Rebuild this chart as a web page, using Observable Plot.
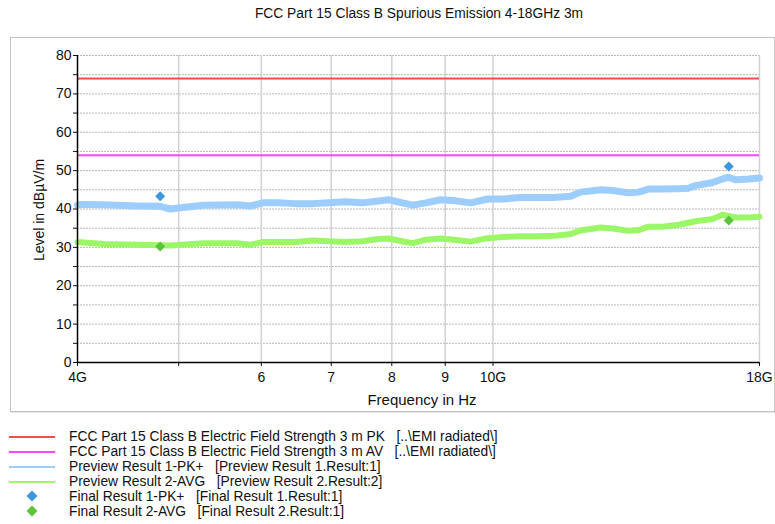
<!DOCTYPE html>
<html>
<head>
<meta charset="utf-8">
<script src="https://cdn.jsdelivr.net/npm/d3@7"></script>
<script src="https://cdn.jsdelivr.net/npm/@observablehq/plot@0.6"></script>
<style>
  body { margin: 0; background: #fff; font-family: "Liberation Sans", Arial, sans-serif; }
  #wrap { position: relative; width: 775px; height: 524px; overflow: hidden; }
  #title { position: absolute; top: 6px; left: 419px; transform: translateX(-50%); font-size: 13.8px; white-space: nowrap; color: #111; }
  #box { position: absolute; left: 10px; top: 37px; width: 763px; height: 373px; border: 1px solid #c4c4c4; box-shadow: 1px 1px 0 #e6e6e6; }
  #chart { position: absolute; left: 0; top: 30px; }
  #xlabel { position: absolute; top: 391px; left: 422px; transform: translateX(-50%); font-size: 15px; white-space: nowrap; color: #111; }
  #ylabel { position: absolute; top: 210px; left: 39px; transform: translate(-50%, -50%) rotate(-90deg); font-size: 14px; white-space: nowrap; color: #111; }
  #legend { position: absolute; top: 429px; left: 0; font-size: 13.8px; color: #111; }
  .row { position: relative; height: 15px; line-height: 15px; white-space: pre; }
  .row .sw { position: absolute; left: 9px; width: 46px; top: 7px; }
  .row .txt { position: absolute; left: 69px; top: 0; }
  .row svg { position: absolute; left: 26px; top: 1px; }
</style>
</head>
<body>
<div id="wrap">
  <div id="box"></div>
  <div id="title"></div>
  <div id="chart"></div>
  <div id="xlabel"></div>
  <div id="ylabel"></div>
  <div id="legend"></div>
</div>
<script>
// ---- Data ----
const titleText = "FCC Part 15 Class B Spurious Emission 4-18GHz 3m";
const xLabelText = "Frequency in Hz";
const yLabelText = "Level in dBµV/m";

const limitPK = 74;   // dBµV/m
const limitAV = 54;   // dBµV/m

// Preview Result 1-PK+ (frequency in GHz, level dBµV/m)
const pkFreq = [4.00, 4.03, 4.24, 4.57, 4.80, 4.91, 5.02, 5.28, 5.69, 5.86, 6.02, 6.23, 6.47, 6.72, 6.96, 7.22, 7.50, 7.77, 7.94, 8.25, 8.38, 8.62, 8.91, 9.17, 9.52, 9.88, 10.23, 10.63, 11.03, 11.43, 11.87, 12.13, 12.68, 13.02, 13.49, 13.79, 14.09, 14.53, 15.06, 15.39, 15.63, 16.23, 16.59, 16.81, 17.07, 17.57, 18.00];
const pkLevel = [41.0, 41.2, 41.1, 40.8, 40.7, 40.0, 40.3, 41.0, 41.1, 40.8, 41.6, 41.6, 41.4, 41.4, 41.6, 41.9, 41.6, 42.1, 42.4, 41.4, 41.0, 41.6, 42.4, 42.2, 41.6, 42.6, 42.6, 43.0, 43.0, 43.0, 43.3, 44.4, 45.0, 44.8, 44.2, 44.4, 45.2, 45.2, 45.3, 45.4, 46.1, 46.9, 47.8, 48.3, 47.6, 47.8, 48.1];

// Preview Result 2-AVG
const avFreq = [4.00, 4.24, 4.57, 4.91, 5.28, 5.69, 5.86, 6.02, 6.23, 6.47, 6.72, 6.96, 7.22, 7.50, 7.77, 7.94, 8.25, 8.38, 8.62, 8.91, 9.17, 9.52, 9.88, 10.23, 10.63, 11.03, 11.43, 11.87, 12.13, 12.68, 13.02, 13.49, 13.79, 14.09, 14.53, 15.06, 15.63, 16.23, 16.59, 17.07, 17.57, 18.00];
const avLevel = [31.4, 30.9, 30.7, 30.5, 31.1, 31.1, 30.7, 31.4, 31.4, 31.4, 31.8, 31.6, 31.4, 31.6, 32.2, 32.3, 31.4, 31.1, 32.0, 32.3, 32.0, 31.5, 32.4, 32.7, 32.9, 32.9, 33.0, 33.5, 34.4, 35.2, 34.9, 34.3, 34.5, 35.4, 35.4, 35.9, 36.8, 37.4, 38.5, 37.8, 37.8, 38.0];

// Final results
const finalPkFreq = [4.80, 16.82];
const finalPkLevel = [43.3, 51.1];
const finalAvFreq = [4.80, 16.82];
const finalAvLevel = [30.2, 37.0];

// Axis ticks
const yTicks = [0, 5, 10, 15, 20, 25, 30, 35, 40, 45, 50, 55, 60, 65, 70, 75, 80];
const yTickLabels = ["0", "", "10", "", "20", "", "30", "", "40", "", "50", "", "60", "", "70", "", "80"];
const xTicks = [4, 5, 6, 7, 8, 9, 10, 18];
const xTickLabels = ["4G", "", "6", "7", "8", "9", "10G", "18G"];

// Legend
const legendMain = [
  "FCC Part 15 Class B Electric Field Strength 3 m PK",
  "FCC Part 15 Class B Electric Field Strength 3 m AV",
  "Preview Result 1-PK+",
  "Preview Result 2-AVG",
  "Final Result 1-PK+",
  "Final Result 2-AVG"
];
const legendRef = [
  "[..\\EMI radiated\\]",
  "[..\\EMI radiated\\]",
  "[Preview Result 1.Result:1]",
  "[Preview Result 2.Result:2]",
  "[Final Result 1.Result:1]",
  "[Final Result 2.Result:1]"
];
const legendKind = ["line", "line", "line", "line", "diamond", "diamond"];

// ---- Styles ----
const colors = ["#ff4a4a", "#ff44ff", "#9dcdfc", "#9cf766", "#3d96e0", "#5cc43a"];

// ---- Build tables ----
const pk = pkFreq.map((f, i) => ({f, v: pkLevel[i]}));
const av = avFreq.map((f, i) => ({f, v: avLevel[i]}));
const fpk = finalPkFreq.map((f, i) => ({f, v: finalPkLevel[i]}));
const fav = finalAvFreq.map((f, i) => ({f, v: finalAvLevel[i]}));

const diamond = {
  draw(ctx, size) {
    const s = Math.sqrt(size / 2);
    ctx.moveTo(0, -s); ctx.lineTo(s, 0); ctx.lineTo(0, s); ctx.lineTo(-s, 0); ctx.closePath();
  }
};

const chart = Plot.plot({
  width: 775,
  height: 385,
  marginLeft: 77,
  marginRight: 16,
  marginTop: 25,
  marginBottom: 53,
  x: {type: "log", domain: [4, 18]},
  y: {domain: [0, 80]},
  style: {fontFamily: "'Liberation Sans', Arial, sans-serif", fontSize: "14px", color: "#111", background: "transparent", overflow: "visible"},
  marks: [
    Plot.gridY(yTicks.slice(1), {stroke: "#b8b8b8", strokeOpacity: 1, strokeDasharray: "2,1"}),
    Plot.gridX(xTicks.slice(1), {stroke: "#d2d2d2", strokeOpacity: 1, strokeWidth: 1.5}),
    Plot.ruleY([limitPK], {stroke: colors[0], strokeWidth: 2}),
    Plot.ruleY([limitAV], {stroke: colors[1], strokeWidth: 2}),
    Plot.line(pk, {x: "f", y: "v", stroke: colors[2], strokeWidth: 7}),
    Plot.line(av, {x: "f", y: "v", stroke: colors[3], strokeWidth: 6}),
    Plot.dot(fpk, {x: "f", y: "v", symbol: diamond, r: 4, fill: colors[4], stroke: "none"}),
    Plot.dot(fav, {x: "f", y: "v", symbol: diamond, r: 4, fill: colors[5], stroke: "none"}),
    Plot.axisY({ticks: yTicks, tickSize: 4, tickPadding: 2, tickFormat: (d) => yTickLabels[yTicks.indexOf(d)], label: null, fontSize: 14}),
    Plot.axisX({ticks: xTicks, tickSize: 4, tickPadding: 6, tickFormat: (d) => xTickLabels[xTicks.indexOf(d)], label: null, fontSize: 14}),
    Plot.ruleX([4], {stroke: "#000", strokeWidth: 1.5}),
    Plot.ruleY([0], {stroke: "#000", strokeWidth: 1.5})
  ]
});
document.getElementById("chart").appendChild(chart);

document.getElementById("title").textContent = titleText;
document.getElementById("xlabel").textContent = xLabelText;
document.getElementById("ylabel").textContent = yLabelText;

const leg = document.getElementById("legend");
legendMain.forEach((t, i) => {
  const row = document.createElement("div");
  row.className = "row";
  if (legendKind[i] === "line") {
    const sw = document.createElement("div");
    sw.className = "sw";
    sw.style.borderTop = "2px solid " + colors[i];
    row.appendChild(sw);
  } else {
    row.innerHTML = `<svg width="12" height="12"><path d="M6,0.5L11.5,6L6,11.5L0.5,6Z" fill="${colors[i]}"/></svg>`;
  }
  const tx = document.createElement("span");
  tx.className = "txt";
  tx.textContent = t + "   " + legendRef[i];
  row.appendChild(tx);
  leg.appendChild(row);
});
</script>
</body>
</html>
